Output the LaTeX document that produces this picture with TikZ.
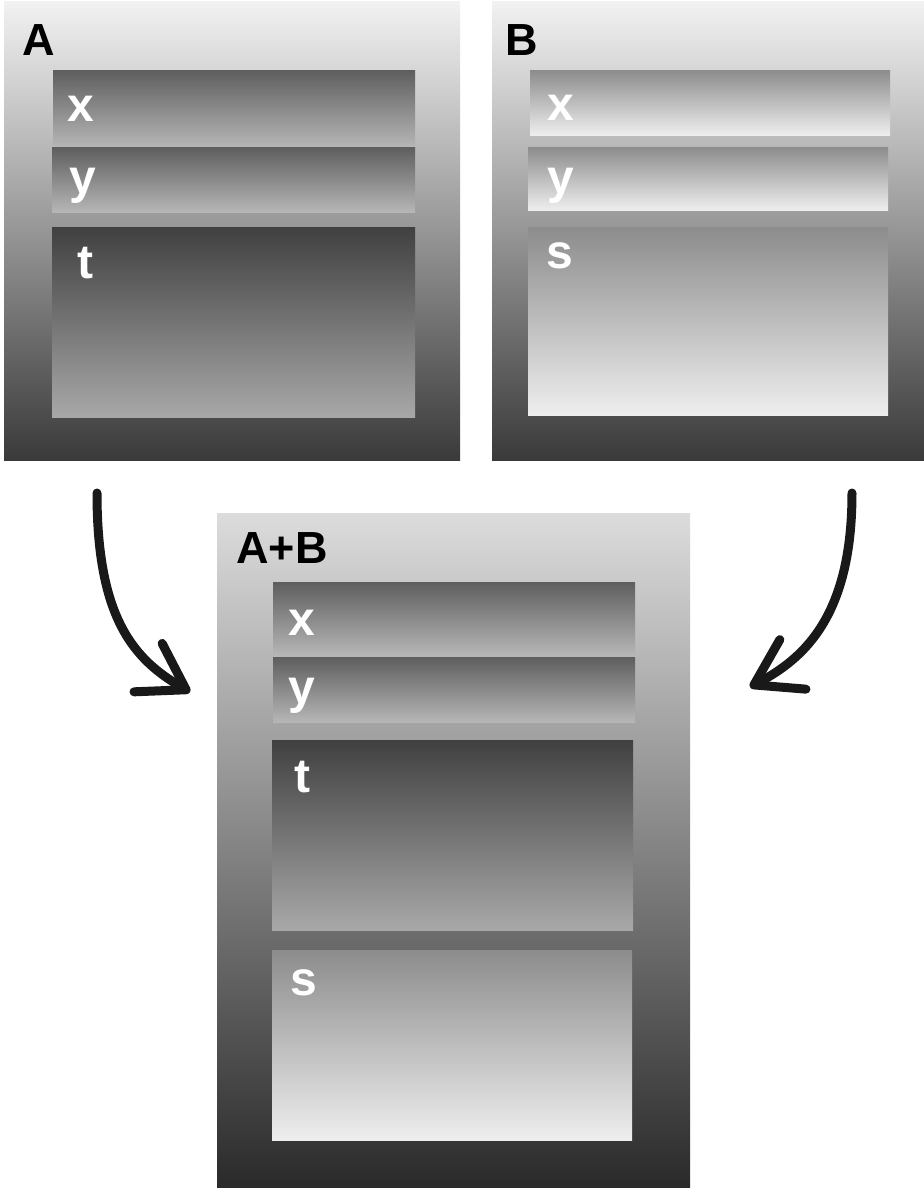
\documentclass[tikz,border=0pt]{standalone}
\usepackage{fontspec}
\setmainfont{Liberation Sans}
\usetikzlibrary{fit,arrows.meta}

\definecolor{frametop}{HTML}{F2F2F2}
\definecolor{framebot}{HTML}{3A3A3A}
\definecolor{sumtop}{HTML}{DCDCDC}
\definecolor{sumbot}{HTML}{2A2A2A}
\definecolor{darktop}{HTML}{5E5E5E}
\definecolor{darkbot}{HTML}{B6B6B6}
\definecolor{deeptop}{HTML}{404040}
\definecolor{deepbot}{HTML}{A8A8A8}
\definecolor{lighttop}{HTML}{8C8C8C}
\definecolor{lightbot}{HTML}{EEEEEE}

\tikzset{
  panel/.style={inner sep=0pt, draw=none, top color=frametop, bottom color=framebot},
  sumpanel/.style={inner sep=0pt, draw=none, top color=sumtop, bottom color=sumbot},
  darkbar/.style={inner sep=0pt, draw=none, top color=darktop, bottom color=darkbot},
  deepbar/.style={inner sep=0pt, draw=none, top color=deeptop, bottom color=deepbot},
  lightbar/.style={inner sep=0pt, draw=none, top color=lighttop, bottom color=lightbot},
  title/.style={anchor=base west, inner sep=0pt, font=\fontsize{22.5}{26}\selectfont\bfseries, text=black},
  field/.style={anchor=base west, inner sep=0pt, font=\fontsize{24}{28}\selectfont\bfseries, text=white},
  merge/.style={line width=4.5pt, line cap=round, line join=round, black!90,
    -{Straight Barb[length=22pt, width=28pt, line cap=round, line join=round]}},
}

\begin{document}
\begin{tikzpicture}[x=0.5pt, y=-0.5pt]
\useasboundingbox (0,0) rectangle (924,1190);
\fill[white] (0,0) rectangle (924,1190);

% record A
\node[panel, fit={(4,1) (460,460)}] (A) {};
\node[darkbar, fit={(53,70) (415,147)}] (Ax) {};
\node[darkbar, fit={(52,147) (415,212)}] (Ay) {};
\node[deepbar, fit={(52,227) (415,417)}] (At) {};
\node[title] (Alab) at (22,55) {A};
\node[field] (Axl) at (67,121) {x};
\node[field] (Ayl) at (69,193) {y};
\node[field] (Atl) at (77,278) {t};

% record B
\node[panel, fit={(492,1) (924,460)}] (B) {};
\node[lightbar, fit={(530,70) (890,135)}] (Bx) {};
\node[lightbar, fit={(528,147) (888,210)}] (By) {};
\node[lightbar, fit={(528,227) (888,415)}] (Bs) {};
\node[title] (Blab) at (505,55) {B};
\node[field] (Bxl) at (547,120) {x};
\node[field] (Byl) at (547,193) {y};
\node[field] (Bsl) at (546,268) {s};

% merged record A+B
\node[sumpanel, fit={(217,513) (690,1187)}] (AB) {};
\node[darkbar, fit={(273,582) (635,655)}] (ABx) {};
\node[darkbar, fit={(273,657) (635,722)}] (ABy) {};
\node[deepbar, fit={(272,740) (633,930)}] (ABt) {};
\node[lightbar, fit={(272,950) (632,1140)}] (ABs) {};
\node[title] (ABlab) at (236,563) {A+B};
\node[field] (ABxl) at (288,635) {x};
\node[field] (AByl) at (288,703) {y};
\node[field] (ABtl) at (294,792) {t};
\node[field] (ABsl) at (290,995) {s};

% merge arrows
\coordinate (fromA) at (97,493);
\coordinate (intoL) at (190,692);
\coordinate (fromB) at (852,493);
\coordinate (intoR) at (750,687);
\draw[merge] (fromA) .. controls (97,620) and (135,660) .. (intoL);
\draw[merge] (fromB) .. controls (852,615) and (805,658) .. (intoR);
\end{tikzpicture}
\end{document}
